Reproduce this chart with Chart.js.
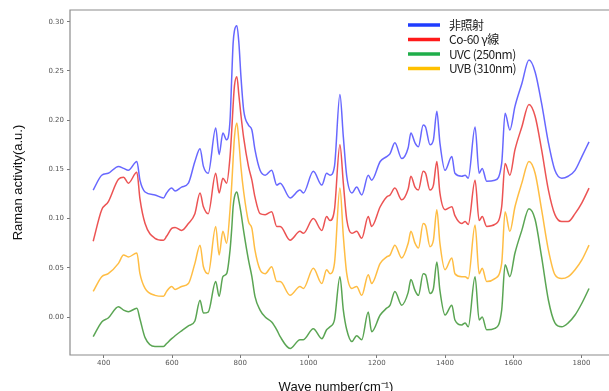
<!DOCTYPE html>
<html>
<head>
<meta charset="utf-8">
<script src="https://cdn.jsdelivr.net/npm/chart.js@4.4.1/dist/chart.umd.min.js"></script>
<style>
  html, body { margin: 0; padding: 0; background: #fff; overflow: hidden; }
</style>
</head>
<body>
<canvas id="ramanChart" width="609" height="400"></canvas>
<script>
// wave numbers (cm-1) shared by all four spectra
const waveNumbers = [
  369, 394, 413, 443, 458, 472, 497, 506, 521, 550,
  575, 584, 599, 609, 628, 648, 667, 682, 692, 706,
  728, 738, 749, 760, 770, 775, 779, 783, 790, 796,
  802, 810, 824, 834, 843, 858, 873, 892, 907, 917,
  946, 975, 985, 1014, 1039, 1053, 1063, 1076, 1092, 1102,
  1112, 1127, 1141, 1156, 1175, 1185, 1210, 1229, 1239, 1253,
  1273, 1292, 1300, 1312, 1322, 1336, 1343, 1356, 1366, 1376,
  1385, 1400, 1420, 1429, 1449, 1459, 1468, 1488, 1500, 1509,
  1522, 1546, 1566, 1576, 1590, 1605, 1625, 1646, 1664, 1683,
  1703, 1722, 1742, 1761, 1781, 1801, 1822
];

// 非照射
const nonIrradiated = [
  0.129, 0.144, 0.146, 0.153, 0.151, 0.149, 0.158, 0.139, 0.127, 0.124,
  0.121, 0.126, 0.131, 0.128, 0.132, 0.136, 0.158, 0.171, 0.153, 0.146,
  0.192, 0.165, 0.187, 0.180, 0.200, 0.244, 0.278, 0.291, 0.296, 0.278,
  0.244, 0.210, 0.195, 0.190, 0.170, 0.149, 0.144, 0.149, 0.134, 0.136,
  0.121, 0.129, 0.126, 0.148, 0.134, 0.146, 0.144, 0.153, 0.226, 0.183,
  0.143, 0.126, 0.132, 0.124, 0.144, 0.139, 0.158, 0.163, 0.166, 0.177,
  0.161, 0.172, 0.187, 0.177, 0.173, 0.195, 0.193, 0.175, 0.180, 0.209,
  0.177, 0.149, 0.163, 0.146, 0.143, 0.144, 0.141, 0.193, 0.146, 0.151,
  0.138, 0.139, 0.156, 0.207, 0.190, 0.214, 0.237, 0.261, 0.249, 0.217,
  0.177, 0.149, 0.141, 0.143, 0.149, 0.163, 0.178
];

// Co-60 γ線
const co60Gamma = [
  0.077, 0.109, 0.117, 0.140, 0.142, 0.136, 0.147, 0.120, 0.095, 0.080,
  0.078, 0.082, 0.090, 0.091, 0.088, 0.095, 0.105, 0.126, 0.112, 0.105,
  0.146, 0.126, 0.141, 0.136, 0.163, 0.190, 0.215, 0.235, 0.244, 0.225,
  0.205, 0.182, 0.153, 0.139, 0.122, 0.105, 0.104, 0.107, 0.092, 0.092,
  0.078, 0.087, 0.085, 0.100, 0.088, 0.102, 0.098, 0.109, 0.175, 0.136,
  0.099, 0.085, 0.087, 0.080, 0.102, 0.092, 0.112, 0.122, 0.124, 0.131,
  0.119, 0.130, 0.143, 0.132, 0.129, 0.148, 0.146, 0.129, 0.134, 0.158,
  0.126, 0.109, 0.112, 0.103, 0.095, 0.097, 0.094, 0.139, 0.098, 0.102,
  0.092, 0.094, 0.112, 0.156, 0.144, 0.170, 0.193, 0.216, 0.204, 0.170,
  0.129, 0.104, 0.097, 0.097, 0.105, 0.116, 0.131
];

// UVC (250nm)
const uvc250 = [
  -0.020, -0.005, -0.001, 0.0105, 0.007, 0.0054, 0.0088, -0.002, -0.021, -0.030,
  -0.030, -0.027, -0.022, -0.019, -0.014, -0.009, -0.004, 0.017, 0.004, 0.005,
  0.036, 0.021, 0.041, 0.044, 0.068, 0.090, 0.112, 0.122, 0.127, 0.118,
  0.106, 0.087, 0.058, 0.041, 0.021, 0.007, 0.000, -0.005, -0.013, -0.020,
  -0.032, -0.023, -0.023, -0.012, -0.022, -0.013, -0.010, -0.003, 0.041, 0.007,
  -0.013, -0.025, -0.019, -0.023, 0.005, -0.015, 0.002, 0.009, 0.012, 0.026,
  0.012, 0.025, 0.038, 0.027, 0.022, 0.044, 0.043, 0.024, 0.029, 0.056,
  0.027, 0.002, 0.012, -0.003, -0.008, -0.006, -0.010, 0.041, -0.003, 0.000,
  -0.013, -0.0115, 0.007, 0.053, 0.041, 0.065, 0.088, 0.110, 0.099, 0.061,
  0.017, -0.006, -0.010, -0.006, 0.002, 0.014, 0.029
];

// UVB (310nm)
const uvb310 = [
  0.026, 0.041, 0.044, 0.0545, 0.063, 0.061, 0.065, 0.044, 0.029, 0.022,
  0.021, 0.026, 0.031, 0.028, 0.031, 0.034, 0.0545, 0.073, 0.051, 0.044,
  0.092, 0.063, 0.087, 0.075, 0.109, 0.135, 0.160, 0.183, 0.197, 0.178,
  0.152, 0.127, 0.097, 0.090, 0.068, 0.048, 0.044, 0.051, 0.036, 0.036,
  0.022, 0.031, 0.029, 0.0495, 0.034, 0.048, 0.044, 0.0545, 0.131, 0.082,
  0.044, 0.029, 0.031, 0.022, 0.043, 0.034, 0.0545, 0.061, 0.063, 0.073,
  0.060, 0.075, 0.087, 0.075, 0.070, 0.095, 0.093, 0.0715, 0.078, 0.109,
  0.075, 0.048, 0.060, 0.044, 0.041, 0.041, 0.039, 0.0935, 0.044, 0.0495,
  0.036, 0.039, 0.0545, 0.107, 0.087, 0.112, 0.136, 0.158, 0.146, 0.109,
  0.068, 0.043, 0.039, 0.041, 0.048, 0.058, 0.073
];

const seriesNames = ['非照射', 'Co-60 γ線', 'UVC (250nm)', 'UVB (310nm)'];
const xTicks = [400, 600, 800, 1000, 1200, 1400, 1600, 1800];
const yTicks = [0, 0.05, 0.10, 0.15, 0.20, 0.25, 0.30];

const lineColors = ['rgba(45,45,255,0.72)', 'rgba(230,25,25,0.75)', 'rgba(35,135,25,0.75)', 'rgba(255,172,20,0.8)'];
const legendColors = ['#1f3cff', '#ff1a1a', '#1fae4a', '#ffc000'];

function toPoints(values) {
  return waveNumbers.map((w, i) => ({ x: w, y: values[i] }));
}

// frame lines (open on the right, like the cropped original) + legend in the upper right
const frameAndLegend = {
  id: 'frameAndLegend',
  afterDatasetsDraw(chart) {
    const { ctx, chartArea } = chart;
    ctx.save();
    ctx.strokeStyle = '#8c8c8c';
    ctx.lineWidth = 1.2;
    ctx.beginPath();
    ctx.moveTo(609, chartArea.top);
    ctx.lineTo(chartArea.left, chartArea.top);
    ctx.lineTo(chartArea.left, chartArea.bottom);
    ctx.lineTo(609, chartArea.bottom);
    ctx.stroke();

    const rows = [25, 39.5, 54, 68.5];
    ctx.font = '12px "Noto Sans CJK JP"';
    ctx.letterSpacing = '-0.5px';
    ctx.textBaseline = 'middle';
    ctx.textAlign = 'left';
    seriesNames.forEach((name, i) => {
      ctx.strokeStyle = legendColors[i];
      ctx.lineWidth = 3.5;
      ctx.beginPath();
      ctx.moveTo(408, rows[i]);
      ctx.lineTo(440, rows[i]);
      ctx.stroke();
      ctx.fillStyle = '#222';
      ctx.fillText(name, 449, rows[i]);
    });
    ctx.restore();
  }
};

const ctx = document.getElementById('ramanChart').getContext('2d');
const ramanChart = new Chart(ctx, {
  type: 'line',
  data: {
    datasets: [
      { label: seriesNames[0], data: toPoints(nonIrradiated), borderColor: lineColors[0] },
      { label: seriesNames[1], data: toPoints(co60Gamma), borderColor: lineColors[1] },
      { label: seriesNames[2], data: toPoints(uvc250), borderColor: lineColors[2] },
      { label: seriesNames[3], data: toPoints(uvb310), borderColor: lineColors[3] }
    ]
  },
  options: {
    responsive: false,
    animation: false,
    layout: { padding: { top: 10, right: 7, left: 0, bottom: 0 } },
    elements: {
      point: { radius: 0 },
      line: { borderWidth: 1.5, cubicInterpolationMode: 'monotone' }
    },
    plugins: { legend: { display: false }, tooltip: { enabled: false } },
    scales: {
      x: {
        type: 'linear',
        min: 301,
        max: 1860,
        afterBuildTicks: s => { s.ticks = xTicks.map(v => ({ value: v })); },
        afterFit: s => { s.height = 45; },
        border: { display: false },
        grid: { drawOnChartArea: false, tickLength: 3, color: '#777' },
        ticks: {
          padding: 1, color: '#555', maxRotation: 0, autoSkip: false,
          font: { family: 'DejaVu Sans', size: 7 },
          callback: v => String(v)
        },
        title: {
          display: true, text: 'Wave number(cm⁻¹)', color: '#111',
          font: { family: 'Liberation Sans', size: 13 },
          padding: { top: 0, bottom: 5 }
        }
      },
      y: {
        min: -0.0386,
        max: 0.3119,
        afterBuildTicks: s => { s.ticks = yTicks.map(v => ({ value: v })); },
        afterFit: s => { s.width = 70; },
        border: { display: false },
        grid: { drawOnChartArea: false, tickLength: 3, color: '#777' },
        ticks: {
          padding: 3, color: '#555',
          font: { family: 'DejaVu Sans', size: 7 },
          callback: v => v.toFixed(2)
        },
        title: {
          display: true, text: 'Raman activity(a.u.)', color: '#111',
          font: { family: 'Liberation Sans', size: 13 },
          padding: { top: 11, bottom: 0 }
        }
      }
    }
  },
  plugins: [frameAndLegend]
});
</script>
</body>
</html>
